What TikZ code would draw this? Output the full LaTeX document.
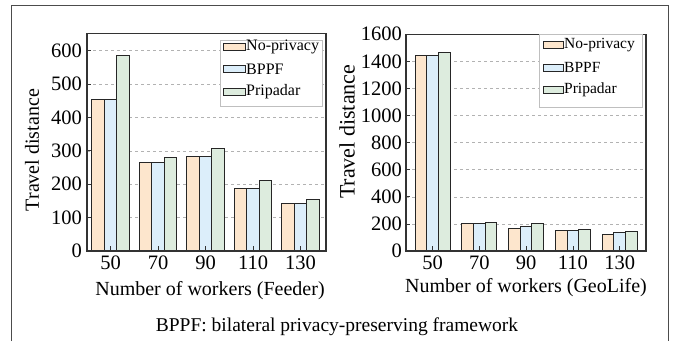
\documentclass[tikz,border=0pt]{standalone}
\usepackage{fontspec}
\setmainfont{Liberation Serif}
\definecolor{nopriv}{RGB}{253,230,205}
\definecolor{bppf}{RGB}{220,238,250}
\definecolor{prip}{RGB}{221,236,222}

\begin{document}
\begin{tikzpicture}[x=1pt, y=1pt,
	bar/.style={draw=black!85, line width=0.9pt},
	gridline/.style={dashed, black!30, line width=0.5pt},
	axbox/.style={draw=black!80, line width=1.1pt},
	ticklab/.style={font=\fontsize{20.5}{24}\selectfont, inner sep=1pt},
	axlab/.style={font=\fontsize{20}{24}\selectfont, inner sep=0pt},
	legbox/.style={draw=black!25, fill=white, line width=0.6pt},
	legtext/.style={anchor=west, inner sep=1pt}]
	
	\useasboundingbox (0,0) rectangle (674,341);
	\draw[black!70, line width=1pt] (11,0) -- (11,335) -- (668,335) -- (668,0);
	
	% Feeder
	\begin{scope}[shift={(87,90)}, y=0.334pt]
		\foreach \v in {100,200,...,600}
		\draw[gridline] (0,\v) -- (239,\v);
		\foreach \i/\n/\a/\b/\c in {0/50/453/453/585, 1/70/266/266/281, 2/90/284/284/308, 3/110/187/187/212, 4/130/142/142/154}{
			\pgfmathsetmacro\cx{23.5+47.5*\i}
			\filldraw[bar, fill=nopriv] (\cx-18.75,0) rectangle ++(12.5,\a);
			\filldraw[bar, fill=bppf] (\cx-6.25,0) rectangle ++(12.5,\b);
			\filldraw[bar, fill=prip] (\cx+6.25,0) rectangle ++(12.5,\c);
			\draw[axbox, line width=0.8pt] (\cx,0) -- ++(0,14);
			\node[ticklab, anchor=north] (fx\n) at (\cx,-10) {\n};
		}
		\foreach \v in {0,100,...,600}{
			\draw[axbox, line width=0.8pt] (0,\v) -- ++(4,0);
			\node[ticklab, anchor=east] (fy\v) at (-4,\v) {\v};
		}
		\draw[axbox] (0,0) rectangle (239,650);
		\node[axlab, font=\fontsize{20}{24}\selectfont] (fxl) at (123,-120) {Number of workers (Feeder)};
		\node[axlab, rotate=90] (fyl) at (-55,302) {Travel distance};
	\end{scope}
	
	% legend Feeder
	\node[legbox, minimum width=102pt, minimum height=66pt] (fleg) at (271.7,267.3) {};
	\foreach \t/\col/\y in {No-privacy/nopriv/293.7, BPPF/bppf/271.7, Pripadar/prip/249.3}{
		\filldraw[bar, line width=0.7pt, fill=\col] (223,\y-3.5) rectangle (245,\y+3.5);
		\node[legtext, font=\fontsize{16}{18}\selectfont] (fl\t) at (245,\y) {\t};
	}
	
	% GeoLife
	\begin{scope}[shift={(406,90)}, y=0.1355pt]
		\foreach \v in {200,400,...,1400}
		\draw[gridline] (0,\v) -- (240,\v);
		\foreach \i/\n/\a/\b/\c in {0/50/1444/1444/1464, 1/70/202/200/214, 2/90/170/182/202, 3/110/153/153/158, 4/130/123/136/145}{
			\pgfmathsetmacro\cx{26.5+46.8*\i}
			\filldraw[bar, fill=nopriv] (\cx-17.5,0) rectangle ++(11.67,\a);
			\filldraw[bar, fill=bppf] (\cx-5.83,0) rectangle ++(11.67,\b);
			\filldraw[bar, fill=prip] (\cx+5.83,0) rectangle ++(11.67,\c);
			\draw[axbox, line width=0.8pt] (\cx,0) -- ++(0,35);
			\node[ticklab, anchor=north] (gx\n) at (\cx,-25) {\n};
		}
		\foreach \v in {0,200,...,1600}{
			\draw[axbox, line width=0.8pt] (0,\v) -- ++(4,0);
			\node[ticklab, anchor=east] (gy\v) at (-3,\v) {\v};
		}
		\draw[axbox] (0,0) rectangle (240,1600);
		\node[axlab] (gxl) at (120,-270) {Number of workers (GeoLife)};
		\node[axlab, rotate=90, font=\fontsize{22}{26}\selectfont] (gyl) at (-59,880) {Travel distance};
	\end{scope}
	
	% legend GeoLife
	\node[legbox, minimum width=103pt, minimum height=73pt] (gleg) at (590.5,270.3) {};
	\foreach \t/\col/\y in {No-privacy/nopriv/296, BPPF/bppf/273.5, Pripadar/prip/251}{
		\filldraw[bar, line width=0.7pt, fill=\col] (543,\y-3.5) rectangle (563,\y+3.5);
		\node[legtext, font=\fontsize{15.5}{18}\selectfont] (gl\t) at (563,\y) {\t};
	}
	
	\node[font=\fontsize{19.5}{23}\selectfont] (cap) at (337,14) {BPPF: bilateral privacy-preserving framework};
\end{tikzpicture}
\end{document}
